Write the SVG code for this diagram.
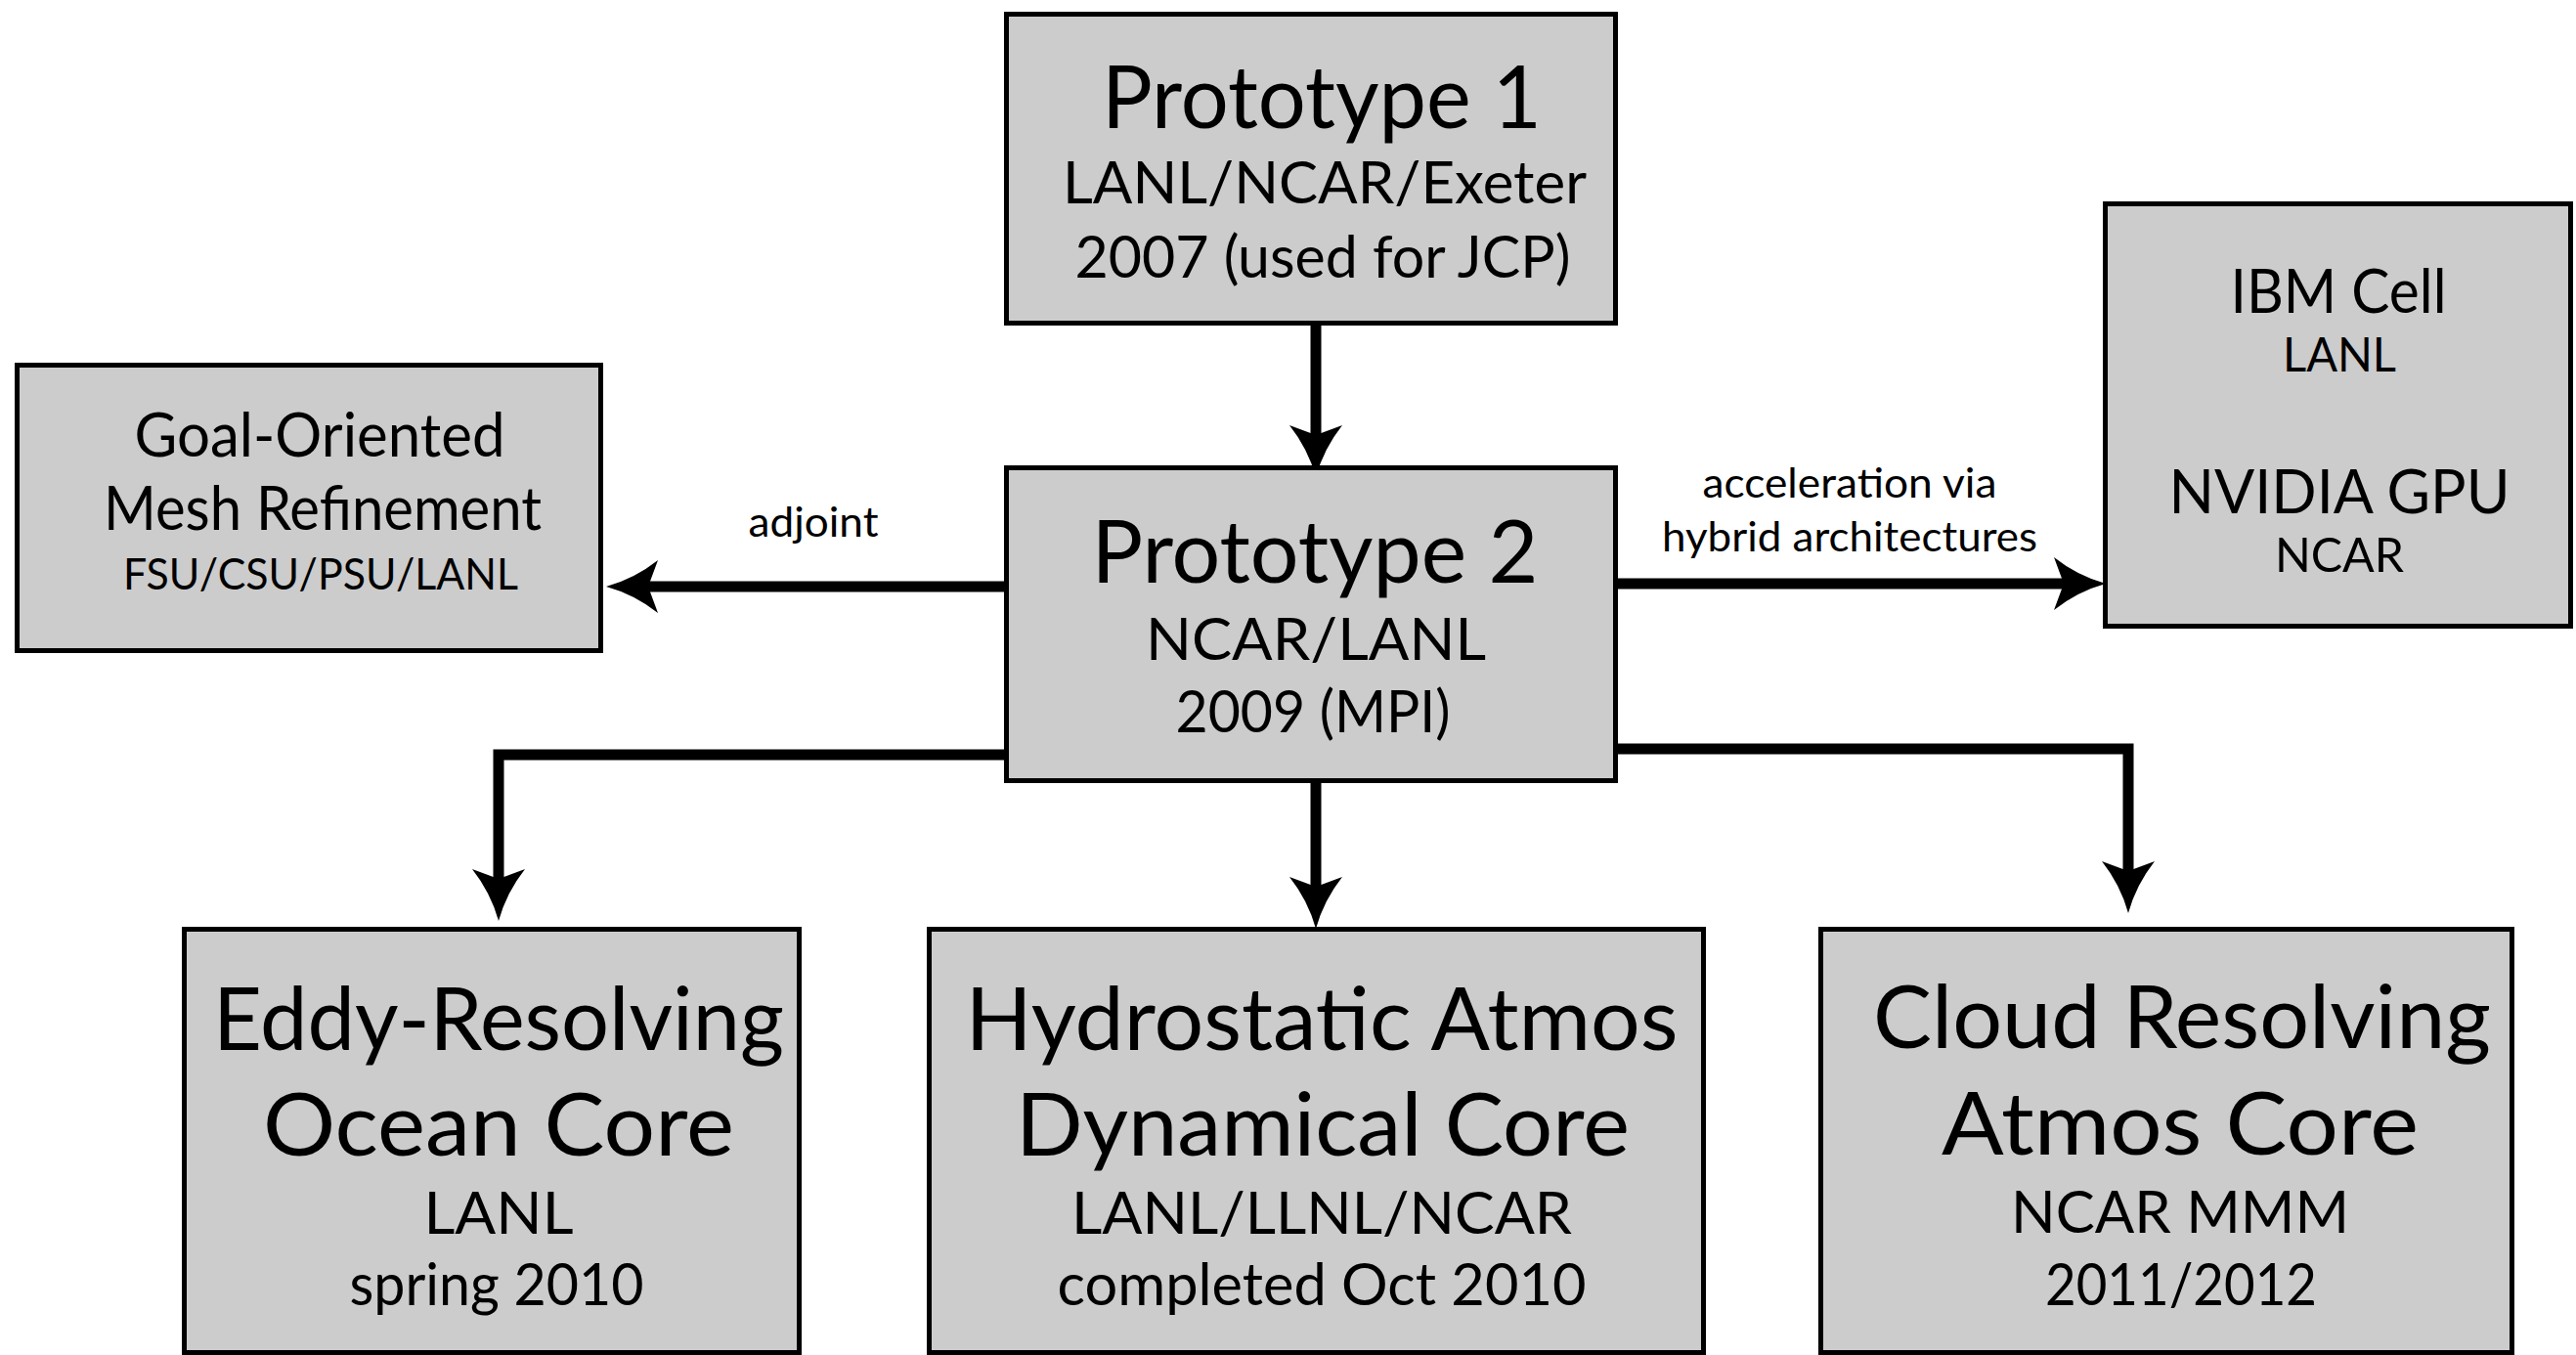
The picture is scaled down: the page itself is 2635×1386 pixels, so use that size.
<svg xmlns="http://www.w3.org/2000/svg" width="2635" height="1386" viewBox="0 0 2635 1386">
<style>
.box{fill:#cccccc;stroke:#000;stroke-width:5}
text{font-family:Lato,"Open Sans","Liberation Sans",sans-serif;fill:#000;text-anchor:middle}
.t{font-size:90px}
.s{font-size:60px}
.m{font-size:62px}
.n{font-size:48px}
.f{font-size:44px}
.l{font-size:42px}
.c{fill:none;stroke:#000;stroke-width:11;stroke-linejoin:miter}
</style>
<defs>
<marker id="ah" markerUnits="userSpaceOnUse" orient="auto" refX="0" refY="0" markerWidth="60" markerHeight="60" overflow="visible">
<path d="M43,0 Q14,-8 -10,-27 L0,0 L-10,27 Q14,8 43,0 Z" fill="#000"/>
</marker>
</defs>
<rect width="2635" height="1386" fill="#fff"/>
<g id="connectors">
<path class="c" d="M1346,333 L1346,445" marker-end="url(#ah)"/>
<path class="c" d="M1028,600 L663,600" marker-end="url(#ah)"/>
<path class="c" d="M1654,597 L2111,597" marker-end="url(#ah)"/>
<path class="c" d="M1028,772 L510,772 L510,899" marker-end="url(#ah)"/>
<path class="c" d="M1346,800 L1346,907" marker-end="url(#ah)"/>
<path class="c" d="M1654,766 L2177,766 L2177,891" marker-end="url(#ah)"/>
</g>
<g id="prototype1">
<rect class="box" x="1029.5" y="14.5" width="623" height="316"/>
<text class="t" x="1352" y="131" textLength="450" lengthAdjust="spacingAndGlyphs">Prototype 1</text>
<text class="s" x="1355" y="208" textLength="536" lengthAdjust="spacingAndGlyphs">LANL/NCAR/Exeter</text>
<text class="s" x="1353" y="284" textLength="507" lengthAdjust="spacingAndGlyphs">2007 (used for JCP)</text>
</g>
<g id="prototype2">
<rect class="box" x="1029.5" y="478.5" width="623" height="320"/>
<text class="t" x="1345" y="596" textLength="457" lengthAdjust="spacingAndGlyphs">Prototype 2</text>
<text class="s" x="1346" y="675" textLength="348" lengthAdjust="spacingAndGlyphs">NCAR/LANL</text>
<text class="s" x="1343" y="749" textLength="281" lengthAdjust="spacingAndGlyphs">2009 (MPI)</text>
</g>
<g id="goal">
<rect class="box" x="17.5" y="373.5" width="597" height="292"/>
<text class="m" x="327" y="467" textLength="379" lengthAdjust="spacingAndGlyphs">Goal-Oriented</text>
<text class="m" x="330" y="542" textLength="448" lengthAdjust="spacingAndGlyphs">Mesh Refinement</text>
<text class="f" x="328" y="603" textLength="404" lengthAdjust="spacingAndGlyphs">FSU/CSU/PSU/LANL</text>
</g>
<g id="hybrid">
<rect class="box" x="2153.5" y="208.5" width="476" height="432"/>
<text class="m" x="2392" y="320" textLength="221" lengthAdjust="spacingAndGlyphs">IBM Cell</text>
<text class="n" x="2393" y="380" textLength="116" lengthAdjust="spacingAndGlyphs">LANL</text>
<text class="m" x="2393" y="525" textLength="349" lengthAdjust="spacingAndGlyphs">NVIDIA GPU</text>
<text class="n" x="2393" y="585" textLength="132" lengthAdjust="spacingAndGlyphs">NCAR</text>
</g>
<g id="labels">
<text class="l" x="832" y="549" textLength="133" lengthAdjust="spacingAndGlyphs">adjoint</text>
<text class="l" x="1892" y="509" textLength="301" lengthAdjust="spacingAndGlyphs">acceleration via</text>
<text class="l" x="1892" y="564" textLength="384" lengthAdjust="spacingAndGlyphs">hybrid architectures</text>
</g>
<g id="ocean">
<rect class="box" x="188.5" y="950.5" width="629" height="433"/>
<text class="t" x="510" y="1074" textLength="584" lengthAdjust="spacingAndGlyphs">Eddy-Resolving</text>
<text class="t" x="510" y="1182" textLength="482" lengthAdjust="spacingAndGlyphs">Ocean Core</text>
<text class="s" x="510" y="1262" textLength="153" lengthAdjust="spacingAndGlyphs">LANL</text>
<text class="s" x="508" y="1335" textLength="301" lengthAdjust="spacingAndGlyphs">spring 2010</text>
</g>
<g id="hydrostatic">
<rect class="box" x="950.5" y="950.5" width="792" height="433"/>
<text class="t" x="1352" y="1074" textLength="729" lengthAdjust="spacingAndGlyphs">Hydrostatic Atmos</text>
<text class="t" x="1353" y="1182" textLength="628" lengthAdjust="spacingAndGlyphs">Dynamical Core</text>
<text class="s" x="1352" y="1262" textLength="512" lengthAdjust="spacingAndGlyphs">LANL/LLNL/NCAR</text>
<text class="s" x="1352" y="1335" textLength="541" lengthAdjust="spacingAndGlyphs">completed Oct 2010</text>
</g>
<g id="cloud">
<rect class="box" x="1862.5" y="950.5" width="707" height="433"/>
<text class="t" x="2232" y="1072" textLength="632" lengthAdjust="spacingAndGlyphs">Cloud Resolving</text>
<text class="t" x="2230" y="1181" textLength="488" lengthAdjust="spacingAndGlyphs">Atmos Core</text>
<text class="s" x="2230" y="1261" textLength="346" lengthAdjust="spacingAndGlyphs">NCAR MMM</text>
<text class="s" x="2231" y="1335" textLength="278" lengthAdjust="spacingAndGlyphs">2011/2012</text>
</g>
</svg>
